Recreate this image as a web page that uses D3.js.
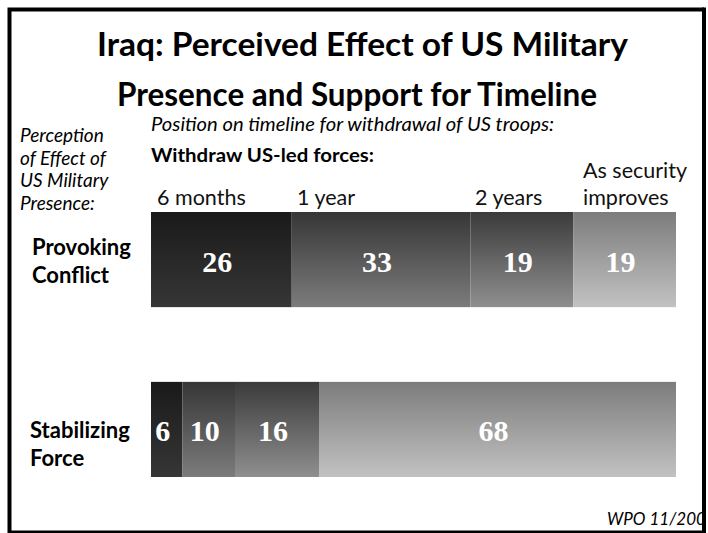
<!DOCTYPE html>
<html>
<head>
<meta charset="utf-8">
<script src="https://cdn.jsdelivr.net/npm/d3@7"></script>
<style>
  body { margin: 0; background: #fff; }
  svg { display: block; }
</style>
</head>
<body>
<svg width="708" height="533"></svg>
<script>
const width = 708
const height = 533

// data
const groups = ["Provoking Conflict", "Stabilizing Force"]
const groupLines = [["Provoking", "Conflict"], ["Stabilizing", "Force"]]
const options = ["6 months", "1 year", "2 years", "As security improves"]
const provoking = [26, 33, 19, 19]
const stabilizing = [6, 10, 16, 68]

const rows = groups.map((g, i) => {
  const vals = i === 0 ? provoking : stabilizing
  const row = { group: g }
  options.forEach((o, j) => row[o] = vals[j])
  return row
})

// gradient stops (top, bottom) per option
const shades = [
  ["#1a1a1a", "#363636"],
  ["#363636", "#7c7c7c"],
  ["#3b3b3b", "#8f8f8f"],
  ["#7c7c7c", "#c2c2c2"]
]

const svg = d3.select("svg")
const sans = "Lato, 'Open Sans', sans-serif"

const defs = svg.append("defs")
shades.forEach((s, i) => {
  const g = defs.append("linearGradient")
    .attr("id", "shade" + i)
    .attr("x1", 0).attr("y1", 0).attr("x2", 0).attr("y2", 1)
  g.append("stop").attr("offset", "0%").attr("stop-color", s[0])
  g.append("stop").attr("offset", "100%").attr("stop-color", s[1])
})

// frame
svg.append("rect")
  .attr("x", 9.5).attr("y", 9.5)
  .attr("width", 694.5).attr("height", 523)
  .attr("fill", "none")
  .attr("stroke", "#000")
  .attr("stroke-width", 4)

// title
const titleLines = [
  { t: "Iraq: Perceived Effect of US Military", x: 97, y: 56, w: 531 },
  { t: "Presence and Support for Timeline", x: 117, y: 106, w: 480 }
]
svg.append("g").selectAll("text")
  .data(titleLines).enter()
  .append("text")
  .attr("x", d => d.x)
  .attr("y", d => d.y)
  .attr("font-family", sans)
  .attr("font-weight", "bold")
  .attr("font-size", 33)
  .attr("textLength", d => d.w)
  .attr("lengthAdjust", "spacingAndGlyphs")
  .text(d => d.t)

// left explanatory text
const persp = ["Perception", "of Effect of", "US Military", "Presence:"]
svg.append("g").selectAll("text")
  .data(persp).enter()
  .append("text")
  .attr("x", 20)
  .attr("y", (d, i) => 142 + i * 22.5)
  .attr("font-family", sans)
  .attr("font-style", "italic")
  .attr("font-size", 19)
  .text(d => d)

svg.append("text")
  .attr("x", 151).attr("y", 131)
  .attr("font-family", sans)
  .attr("font-style", "italic")
  .attr("font-size", 19.5)
  .attr("textLength", 403)
  .attr("lengthAdjust", "spacingAndGlyphs")
  .text("Position on timeline for withdrawal of US troops:")

svg.append("text")
  .attr("x", 151).attr("y", 162)
  .attr("font-family", sans)
  .attr("font-weight", "bold")
  .attr("font-size", 19.5)
  .attr("textLength", 223)
  .attr("lengthAdjust", "spacingAndGlyphs")
  .text("Withdraw US-led forces:")

// scales
const x = d3.scaleLinear().domain([0, 1]).range([151, 676])
const y = d3.scaleBand().domain(groups).range([212, 477]).paddingInner(0.44)

const stack = d3.stack().keys(options).offset(d3.stackOffsetExpand)
const series = stack(rows)

// column headers (above first bar)
const headX = [157, 297, 475, 583]
const headLines = [["6 months"], ["1 year"], ["2 years"], ["As security", "improves"]]
const heads = svg.append("g").selectAll("text")
  .data(options).enter()
  .append("text")
  .attr("font-family", sans)
  .attr("font-size", 21.5)
  .attr("fill", "#111")
heads.each(function(d, i) {
  const lines = headLines[i]
  lines.forEach((l, k) => {
    d3.select(this).append("tspan")
      .attr("x", headX[i])
      .attr("y", 205 - (lines.length - 1 - k) * 27)
      .text(l)
  })
})

// bars
const layer = svg.append("g").selectAll("g")
  .data(series).enter()
  .append("g")
  .attr("fill", (d, i) => `url(#shade${i})`)

layer.selectAll("rect")
  .data(d => d.map(p => Object.assign(p, { key: d.key })))
  .enter()
  .append("rect")
  .attr("x", d => x(d[0]))
  .attr("y", d => y(d.data.group))
  .attr("width", d => x(d[1]) - x(d[0]))
  .attr("height", y.bandwidth())

layer.selectAll("text")
  .data(d => d)
  .enter()
  .append("text")
  .attr("x", d => (x(d[0]) + x(d[1])) / 2 - 4)
  .attr("y", d => y(d.data.group) + y.bandwidth() / 2 + 12)
  .attr("text-anchor", "middle")
  .attr("font-family", "'Liberation Serif', 'Times New Roman', serif")
  .attr("font-weight", "bold")
  .attr("font-size", 30)
  .attr("fill", "#fff")
  .text(d => d.data[d.key])

// row labels
const rowShift = [-5, 9]
const rowLab = svg.append("g").selectAll("text")
  .data(groups).enter()
  .append("text")
  .attr("font-family", sans)
  .attr("font-weight", "bold")
  .attr("font-size", 22)
rowLab.each(function(d, i) {
  groupLines[i].forEach((l, k) => {
    d3.select(this).append("tspan")
      .attr("x", i === 0 ? 32 : 30)
      .attr("y", y(d) + y.bandwidth() / 2 + rowShift[i] + k * 28)
      .text(l)
  })
})

// source note (clipped by the frame, as in the original)
svg.append("text")
  .attr("x", 607).attr("y", 525)
  .attr("font-family", sans)
  .attr("font-style", "italic")
  .attr("font-size", 17)
  .text("WPO 11/2006")

svg.append("rect")
  .attr("x", 704).attr("y", 0).attr("width", 4).attr("height", height)
  .attr("fill", "#fff")
svg.append("line")
  .attr("x1", 704).attr("x2", 704).attr("y1", 7.5).attr("y2", height)
  .attr("stroke", "#000").attr("stroke-width", 4)
</script>
</body>
</html>
